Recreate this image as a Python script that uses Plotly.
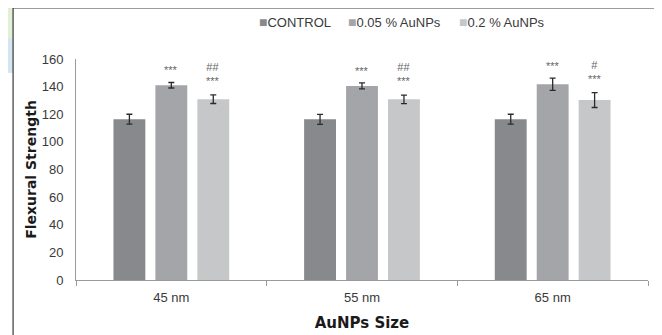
import plotly.graph_objects as go

categories = ["45 nm", "55 nm", "65 nm"]
series_names = ["CONTROL", "0.05 % AuNPs", "0.2 % AuNPs"]
control_vals = [116.4, 116.3, 116.4]
control_err = [3.6, 3.6, 3.6]
au005_vals = [141.0, 140.5, 141.7]
au005_err = [2.0, 2.2, 4.4]
au02_vals = [130.9, 130.8, 130.3]
au02_err = [3.1, 3.1, 5.4]
au005_sig = ["***", "***", "***"]
au02_sig = ["##<br>***", "##<br>***", "#<br>***"]
y_ticks = [0, 20, 40, 60, 80, 100, 120, 140, 160]

colors = ["#88898d", "#a4a5a9", "#c6c7c9"]
FONT = "Liberation Sans, Arial, sans-serif"
TFONT = "DejaVu Sans, Arial Black, sans-serif"

fig = go.Figure()
for name, vals, errs, col in zip(series_names,
                                 [control_vals, au005_vals, au02_vals],
                                 [control_err, au005_err, au02_err], colors):
    fig.add_trace(go.Bar(
        x=categories, y=vals, name=name, showlegend=False,
        marker=dict(color=col, line=dict(width=0)),
        error_y=dict(type="data", array=errs, visible=True,
                     color="#2b2b2b", thickness=1.3, width=3),
    ))

ann = []
for i, cat in enumerate(categories):
    ann.append(dict(x=cat, y=au005_vals[i] + au005_err[i], xref="x", yref="y",
                    text=au005_sig[i], showarrow=False, xshift=0, yshift=4,
                    yanchor="bottom", font=dict(size=11, color="#666666", family=FONT)))
    ann.append(dict(x=cat, y=au02_vals[i] + au02_err[i], xref="x", yref="y",
                    text=au02_sig[i], showarrow=False, xshift=42, yshift=6,
                    yanchor="bottom", font=dict(size=11, color="#666666", family=FONT)))

# legend drawn as text entries with a coloured square glyph, like the original
legend_x = [0.316, 0.472, 0.666]
for name, col, lx in zip(series_names, colors, legend_x):
    ann.append(dict(x=lx, y=1.167, xref="paper", yref="paper", xanchor="left", yanchor="middle",
                    showarrow=False,
                    text=f'<span style="color:{col};font-size:14px">■</span>{name}',
                    font=dict(size=13, color="#3a3a3a", family=FONT)))

# page has an 8px body margin: figure is 654x327 placed at (8,8)
fig.update_layout(
    width=654, height=327,
    margin=dict(l=68, r=14, t=51, b=55, autoexpand=False),
    paper_bgcolor="white", plot_bgcolor="white",
    barmode="group", bargap=0.34, bargroupgap=0.24,
    font=dict(family=FONT, size=13, color="#3a3a3a"),
    showlegend=False,
    annotations=ann,
    shapes=[
        dict(type="rect", xref="paper", yref="paper", x0=-0.119, x1=-0.110,
             y0=1.095, y1=1.231, line=dict(width=0), fillcolor="#e4efd8", layer="below"),
        dict(type="rect", xref="paper", yref="paper", x0=-0.119, x1=-0.110,
             y0=0.937, y1=1.095, line=dict(width=0), fillcolor="#d3e6f2", layer="below"),
        dict(type="rect", xref="paper", yref="paper", x0=-0.110, x1=1.012,
             y0=-0.5, y1=1.231, line=dict(color="#3a3a3a", width=1.2),
             fillcolor="rgba(0,0,0,0)", layer="below"),
    ],
    xaxis=dict(showline=True, linecolor="#9a9a9a", linewidth=1,
               ticks="outside", tickson="boundaries", ticklen=5, tickcolor="#9a9a9a",
               ticklabelstandoff=5,
               tickfont=dict(size=13, color="#3a3a3a"),
               title=dict(text="<b>AuNPs Size</b>", font=dict(size=15, color="#1a1a1a", family=TFONT), standoff=13)),
    yaxis=dict(range=[0, 160], tickvals=y_ticks, showline=True, linecolor="#9a9a9a",
               linewidth=1, showgrid=False, zeroline=False, ticks="",
               ticklabelstandoff=9,
               tickfont=dict(size=13, color="#3a3a3a"),
               title=dict(text="<b>Flexural Strength</b>", font=dict(size=14, color="#1a1a1a", family=TFONT), standoff=1)),
)

fig.write_html("out.html")
